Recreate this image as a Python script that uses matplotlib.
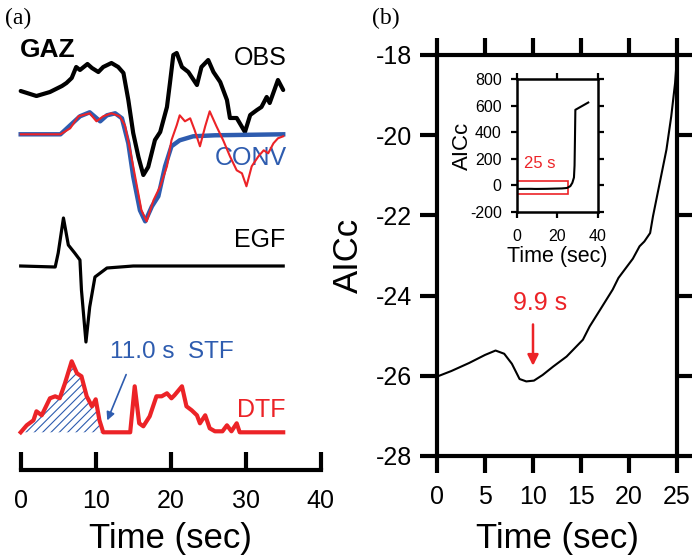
import numpy as np
import matplotlib
matplotlib.use("Agg")
import matplotlib.pyplot as plt
from matplotlib.patches import Rectangle

plt.rcParams['font.family'] = ['Liberation Sans', 'DejaVu Sans']
plt.rcParams['axes.unicode_minus'] = False
plt.rcParams['hatch.linewidth'] = 0.8
plt.rcParams['lines.solid_joinstyle'] = 'round'

RED = '#ec2327'
BLUE = '#2e5caf'

# ---- panel (a) traces: time (s) and amplitude (arbitrary units, up positive)
obs_t = [0, 2.1, 3.9, 5.5, 6.1, 6.8, 7.4, 7.9, 8.9, 9.5, 10.35, 11.0, 12.1, 13.0, 13.7,
         14.35, 15.0, 15.7, 16.35, 17.0, 17.9, 18.6, 19.5, 19.9, 20.35, 20.8, 21.5, 22.35,
         23.5, 24.1, 25.0, 25.7, 26.6, 27.5, 27.9, 28.8, 29.9, 30.6, 31.5, 32.1, 32.8,
         33.2, 34.3, 35.0]
obs_amp = [0, -5, -1, 5, 8, 13, 24, 21, 27, 23, 19, 24, 28, 24, 18,
           -9, -42, -66, -84, -76, -49, -41, -16, 8, 36, 38, 24, 19,
           6, 24, 31, 19, 9, -9, -27, -27, -41, -24, -19, -16, -6,
           -12, 11, 1]

conv_t = [0, 5.3, 6.6, 7.9, 9.2, 10.6, 11.5, 12.6, 13.5, 14.35, 15.0, 15.9, 16.6,
          17.5, 18.35, 19.25, 20.1, 21.2, 23.0, 25.9, 35.0]
conv_amp = [0, 0, 9, 18, 22, 13, 19, 21, 16, -9, -42, -76, -87,
            -72, -62, -32, -12, -6, -2, -1, 0]

data_t = [0, 5.3, 6.6, 7.7, 9.2, 10.1, 11.0, 12.1, 13.2, 13.9, 14.6, 15.5, 16.1, 16.8,
          17.7, 18.6, 19.5, 20.1, 20.8, 21.2, 21.9, 22.6, 23.2, 23.9, 24.6, 25.2, 26.1,
          27.0, 27.9, 28.8, 29.5, 30.1, 30.8, 31.7, 32.4, 33.0, 33.7, 34.3, 35.0]
data_amp = [0, 0, 6, 18, 21, 13, 18, 21, 18, 9, -16, -52, -76, -87,
            -66, -52, -32, -6, 9, 19, 13, 16, 4, -12, 8, 23, 8,
            -6, -22, -36, -39, -52, -32, -22, -16, -19, -9, -4, -2]

egf_t = [0, 4.6, 5.0, 5.7, 6.35, 7.2, 7.9, 8.1, 8.7, 9.2, 9.9, 11.5, 15.0, 35.0]
egf_amp = [0, -1, 13, 48, 21, 13, 6, -24, -76, -41, -11, -2, 0, 0]

dtf_t = [0, 0.8, 1.7, 2.1, 2.8, 3.9, 4.6, 5.2, 5.9, 6.8, 7.5, 8.1, 8.8, 9.5, 10.0, 10.5,
         11.0, 14.6, 15.2, 15.8, 16.35, 17.2, 18.1, 18.8, 19.5, 20.1, 20.5, 21.5, 22.1,
         22.8, 23.5, 23.9, 24.6, 25.2, 25.9, 26.9, 27.5, 28.1, 28.8, 29.2, 35.0]
dtf_amp = [0, 7, 12, 21, 17, 34, 36, 34, 49, 71, 59, 56, 36, 26, 33, 12,
           0, 0, 46, 9, 6, 16, 36, 36, 39, 34, 37, 46, 26,
           22, 17, 9, 17, 4, 1, 1, 7, 1, 9, 0, 0]
stf_duration = 11.0

# ---- panel (b): AICc vs STF duration
aic_t = [0, 1.5, 3.35, 5.0, 6.1, 7.0, 7.8, 8.6, 9.3, 10.1, 11.0, 12.1, 13.5, 15.2, 15.9,
         17.0, 18.3, 18.9, 20.4, 21.1, 21.6, 22.2, 22.5, 23.2, 23.9, 24.4, 24.8, 25.0]
aic_v = [-26.02, -25.88, -25.68, -25.48, -25.37, -25.45, -25.70, -26.08, -26.14, -26.12,
         -25.98, -25.77, -25.52, -25.10, -24.77, -24.35, -23.85, -23.56, -23.08, -22.77,
         -22.65, -22.44, -22.02, -21.19, -20.36, -19.53, -18.70, -18.05]
# inset continues beyond 25 s
ext_t = [26.5, 27.5, 28.3, 28.6, 28.8, 29.0, 35.4]
ext_v = [-5, 20, 60, 150, 350, 570, 625]
best_t = 10.0

# vertical offsets of the traces in panel (a)
offsets = {'obs': 91, 'conv': 134.3, 'egf': 266, 'dtf': 432.3}

fig = plt.figure(figsize=(6.92, 5.57), dpi=100)
W, H = 692.0, 557.0

# ================= panel (a)
ax_a = fig.add_axes([20.7 / W, (H - 470) / H, 300 / W, 470 / H])
ax_a.set_xlim(0, 40)
ax_a.set_ylim(-470, 0)
for s in ['left', 'right', 'top']:
    ax_a.spines[s].set_visible(False)
ax_a.spines['bottom'].set_linewidth(3)
ax_a.set_yticks([])
ax_a.set_xticks([0, 10, 20, 30, 40])
ax_a.tick_params(axis='x', direction='in', length=13, width=3, labelsize=18, pad=14)
ax_a.set_xlabel('Time (sec)', fontsize=25, labelpad=6)


def tr(amp, key):
    return np.array(amp) - offsets[key]


ax_a.plot(obs_t, tr(obs_amp, 'obs'), color='black', lw=3, clip_on=False,
          solid_capstyle='round')
ax_a.plot(conv_t, tr(conv_amp, 'conv'), color=BLUE, lw=3.2, clip_on=False)
ax_a.plot(data_t, tr(data_amp, 'conv'), color=RED, lw=1.5, clip_on=False)
ax_a.plot(egf_t, tr(egf_amp, 'egf'), color='black', lw=2.3, clip_on=False)

dtf_y = tr(dtf_amp, 'dtf')
dtf_tt = np.array(dtf_t)
ax_a.fill_between(dtf_tt, -offsets['dtf'], dtf_y, where=dtf_tt <= stf_duration,
                  facecolor='none', edgecolor=BLUE, hatch='////', linewidth=0)
ax_a.plot(dtf_t, dtf_y, color=RED, lw=3, clip_on=False)

ax_a.text(-0.1, -50, 'GAZ', fontsize=19, fontweight='bold', ha='left', va='center')
ax_a.text(35.5, -58, 'OBS', fontsize=18, ha='right', va='center')
ax_a.text(35.5, -158, 'CONV', fontsize=18, ha='right', va='center', color=BLUE, zorder=1)
ax_a.text(35.3, -240, 'EGF', fontsize=18, ha='right', va='center')
ax_a.text(11.9, -352, '11.0 s  STF', fontsize=17.5, ha='left', va='center', color=BLUE)
ax_a.text(35.3, -410, 'DTF', fontsize=18, ha='right', va='center', color=RED)
ax_a.annotate('', xy=(11.4, -423), xytext=(14.2, -372),
              arrowprops=dict(arrowstyle='-|>', color=BLUE, lw=1.2, mutation_scale=12))

# ================= panel (b)
ax_b = fig.add_axes([437 / W, (H - 456) / H, 240 / W, 401 / H])
ax_b.plot(aic_t, aic_v, color='black', lw=1.5)
ax_b.set_xlim(0, 25)
ax_b.set_ylim(-28, -18)
ax_b.set_xticks([0, 5, 10, 15, 20, 25])
ax_b.set_yticks([-28, -26, -24, -22, -20, -18])
for s in ax_b.spines.values():
    s.set_linewidth(3)
ax_b.tick_params(direction='out', length=12, width=3, labelsize=18,
                 top=True, right=True)
ax_b.tick_params(axis='x', pad=9)
ax_b.tick_params(axis='y', pad=6)
ax_b.set_xlabel('Time (sec)', fontsize=25, labelpad=9)
ax_b.set_ylabel('AICc', fontsize=25, labelpad=8)

ax_b.annotate('', xy=(best_t, -25.82), xytext=(best_t, -24.65),
              arrowprops=dict(arrowstyle='-|>', color=RED, lw=1.8, mutation_scale=16))
ax_b.text(best_t + 0.7, -24.18, '9.9 s', fontsize=18, color=RED, ha='center', va='center')

# inset
ax_in = fig.add_axes([517 / W, (H - 212) / H, 80.5 / W, 132.7 / H])
ax_in.plot(aic_t + ext_t, aic_v + ext_v, color='black', lw=1.5)
ax_in.set_xlim(0, 40)
ax_in.set_ylim(-200, 800)
ax_in.set_xticks([0, 20, 40])
ax_in.set_yticks([-200, 0, 200, 400, 600, 800])
for s in ax_in.spines.values():
    s.set_linewidth(1.8)
ax_in.tick_params(direction='out', length=4, width=1.6, labelsize=11.5,
                  top=True, right=True)
ax_in.tick_params(axis='x', pad=8)
ax_in.tick_params(axis='y', pad=7)
ax_in.set_xlabel('Time (sec)', fontsize=15.5, labelpad=2)
ax_in.set_ylabel('AICc', fontsize=16, labelpad=-2)
ax_in.add_patch(Rectangle((0, -65), 25.3, 100, fill=False, edgecolor=RED, lw=1.2))
ax_in.text(11.4, 163, '25 s', fontsize=12, color=RED, ha='center', va='center')

fig.text(5 / W, 1 - 18 / H, '(a)', fontsize=17, family='Liberation Serif',
         ha='left', va='center')
fig.text(372 / W, 1 - 18 / H, '(b)', fontsize=17, family='Liberation Serif',
         ha='left', va='center')

fig.savefig('out.png', dpi=100)
